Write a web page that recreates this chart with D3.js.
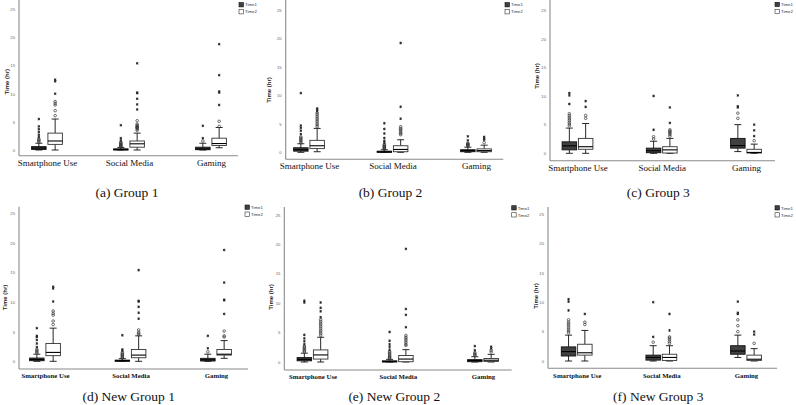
<!DOCTYPE html>
<html><head><meta charset="utf-8">
<script src="https://cdn.jsdelivr.net/npm/d3@7"></script>
<style>
html,body{margin:0;padding:0;background:#fff;}
svg{display:block;}
</style></head>
<body>
<svg id="chart" width="796" height="405"></svg>
<script>
// ---------- DATA ----------
const categories = ["Smartphone Use", "Social Media", "Gaming"];
const seriesNames = ["Time1", "Time2"];
const yTicks = [0, 5, 10, 15, 20, 25];
const panelTitles = ["(a) Group 1", "(b) Group 2", "(c) Group 3", "(d) New Group 1", "(e) New Group 2", "(f) New Group 3"];

// box stats per category: [low whisker, Q1, median, Q3, high whisker]; out = circles, ext = asterisks
// (a) Group 1
const a_t1_box = [[0, 0.1, 0.35, 0.6, 1.2], [0, 0.02, 0.1, 0.2, 0.45], [0, 0.05, 0.2, 0.5, 1.2]];
const a_t1_out = [[1.4, 1.6, 1.8, 2.0], [0.55, 0.65, 0.75, 0.85, 1.0, 1.1, 1.25, 1.4], [1.6]];
const a_t1_ext = [[2.3, 2.7, 3.2, 3.7, 4.2, 5.5], [1.7, 2.1, 4.4], [2.1, 4.3]];
const a_t2_box = [[0, 1.0, 1.6, 3.0, 5.5], [0, 0.5, 1.1, 1.6, 3.0], [0.4, 0.8, 1.15, 2.1, 4.0]];
const a_t2_out = [[6.1, 7.0, 8.0, 8.3, 8.6], [3.5, 3.7, 3.9, 4.0, 4.1, 4.2, 4.4, 4.6, 5.2], [4.2, 5.1]];
const a_t2_ext = [[10.0, 12.2, 12.5], [7.2, 8.1, 9.1, 10.1, 10.2, 15.4], [8.0, 10.2, 10.4, 13.3, 18.8]];
// (b) Group 2
const b_t1_box = [[0, 0.2, 0.45, 0.8, 1.5], [0, 0.02, 0.08, 0.2, 0.45], [0, 0.1, 0.3, 0.45, 0.9]];
const b_t1_out = [[1.7, 1.9, 2.1, 2.3, 2.5, 2.7], [0.55, 0.65, 0.75, 0.9, 1.0, 1.1, 1.25, 1.4], [1.1, 1.2, 1.3, 1.4, 1.5, 1.6]];
const b_t1_ext = [[3.2, 3.8, 4.3, 4.7, 10.4], [1.7, 2.0, 2.5, 3.3, 4.1, 5.1], [2.1, 2.8]];
const b_t2_box = [[0.1, 0.65, 1.15, 2.1, 4.2], [0, 0.1, 0.5, 1.15, 2.2], [0, 0.1, 0.3, 0.6, 1.25]];
const b_t2_out = [[4.5, 4.8, 5.1, 5.4, 5.7, 6.0, 6.3, 6.6, 6.9], [3.1, 3.3, 3.5, 3.8, 4.0, 4.2, 4.5], [1.7]];
const b_t2_ext = [[7.2, 7.5, 7.7], [5.9, 8.0, 19.2], [2.2, 2.4, 2.7]];
// (c) Group 3
const c_t1_box = [[0, 0.6, 1.3, 2.0, 4.4], [0, 0.1, 0.45, 0.9, 2.1], [0.3, 0.9, 1.35, 2.6, 5.0]];
const c_t1_out = [[4.8, 5.1, 5.4, 5.7, 6.0, 6.3, 6.6, 6.9], [2.5, 2.9], [6.1, 7.0]];
const c_t1_ext = [[8.6, 10.1, 10.5], [4.1, 10.0], [8.0, 8.2, 10.1]];
const c_t2_box = [[0, 0.7, 1.15, 2.6, 5.2], [0, 0.05, 0.6, 1.15, 2.6], [0, 0.05, 0.15, 0.7, 1.6]];
const c_t2_out = [[6.1, 6.6], [3.0, 3.3, 3.5, 3.7, 3.9, 4.1], [2.2]];
const c_t2_ext = [[8.1, 9.1], [5.3, 8.0], [3.0, 4.0, 5.0]];
// (d) New Group 1
const d_t1_box = [[0, 0.1, 0.3, 0.55, 1.2], [0, 0.02, 0.1, 0.2, 0.45], [0, 0.05, 0.25, 0.5, 1.2]];
const d_t1_out = [[1.4, 1.6, 1.8, 2.0], [0.55, 0.7, 0.85, 1.0, 1.15, 1.3, 1.5], [1.6]];
const d_t1_ext = [[2.4, 3.0, 3.6, 4.1, 4.3, 5.6], [1.8, 2.0, 4.4], [2.2, 4.3]];
const d_t2_box = [[0, 0.95, 1.5, 3.0, 5.6], [0, 0.6, 1.05, 2.0, 4.3], [0.5, 1.05, 1.2, 2.0, 3.5]];
const d_t2_out = [[6.2, 6.8, 7.8, 8.1, 8.5], [4.5, 4.7, 4.9, 5.3], [4.1, 4.3, 5.1]];
const d_t2_ext = [[10.1, 12.3, 12.6], [7.2, 8.2, 9.2, 10.1, 10.2, 15.4], [8.0, 10.3, 10.4, 13.3, 18.8]];
// (e) New Group 2
const e_t1_box = [[0, 0.2, 0.45, 0.75, 1.5], [0, 0.02, 0.08, 0.2, 0.45], [0, 0.05, 0.25, 0.4, 0.9]];
const e_t1_out = [[1.7, 1.9, 2.1, 2.3, 2.5, 2.7], [0.55, 0.7, 0.85, 1.0, 1.2, 1.4, 1.6, 1.8], [1.1, 1.25, 1.4, 1.6]];
const e_t1_ext = [[3.0, 3.5, 4.0, 4.6, 10.1, 10.4], [2.1, 2.6, 3.0, 3.6, 5.1], [2.0, 2.7]];
const e_t2_box = [[0, 0.5, 1.2, 2.05, 4.2], [0, 0.05, 0.5, 1.1, 2.1], [0, 0.1, 0.3, 0.6, 1.3]];
const e_t2_out = [[4.5, 4.8, 5.1, 5.4, 5.7, 6.0, 6.3, 6.6, 6.9, 7.2], [2.8, 3.0, 3.3, 3.6, 3.9, 4.2, 4.5], [1.7, 2.0]];
const e_t2_ext = [[7.6, 8.6, 9.2, 10.1], [5.9, 8.0, 9.0, 19.2], [2.3, 2.6]];
// (f) New Group 3
const f_t1_box = [[0, 0.85, 1.6, 2.4, 4.4], [0, 0.15, 0.6, 1.0, 2.6], [0.6, 1.15, 1.7, 2.6, 4.4]];
const f_t1_out = [[4.8, 5.1, 5.4, 5.7, 6.0, 6.3, 6.6, 7.0], [3.2], [5.0, 6.0, 7.0]];
const f_t1_ext = [[8.6, 10.1, 10.5], [4.1, 10.0], [8.0, 8.2, 10.1]];
const f_t2_box = [[0, 1.0, 1.4, 2.85, 5.2], [0, 0.1, 0.6, 1.15, 2.6], [0, 0.1, 0.3, 1.0, 2.1]];
const f_t2_out = [[6.2, 6.6], [3.0, 3.3, 3.6, 3.9, 4.1], [3.0]];
const f_t2_ext = [[8.0], [5.2, 8.0], [4.5, 5.0]];

const panelData = [
  [[a_t1_box, a_t1_out, a_t1_ext], [a_t2_box, a_t2_out, a_t2_ext]],
  [[b_t1_box, b_t1_out, b_t1_ext], [b_t2_box, b_t2_out, b_t2_ext]],
  [[c_t1_box, c_t1_out, c_t1_ext], [c_t2_box, c_t2_out, c_t2_ext]],
  [[d_t1_box, d_t1_out, d_t1_ext], [d_t2_box, d_t2_out, d_t2_ext]],
  [[e_t1_box, e_t1_out, e_t1_ext], [e_t2_box, e_t2_out, e_t2_ext]],
  [[f_t1_box, f_t1_out, f_t1_ext], [f_t2_box, f_t2_out, f_t2_ext]]
];

// ---------- LAYOUT ----------
const layout = [
  {ax:19,    y0:150,   y25:9.3,   top:0,     bottom:155.7, right:238,   c0:47,    c2:211, tx:7,     ty:81.7,  capX:127,   capY:197,   labY:166.3, legX:239,   legY:2.6,   bold:false},
  {ax:285.7, y0:152.3, y25:10,    top:0,     bottom:159.3, right:503.3, c0:309,   c2:476, tx:269,   ty:90,    capX:390.5, capY:196.7, labY:169.5, legX:505,   legY:2.6,   bold:false},
  {ax:550,   y0:153.3, y25:10,    top:0,     bottom:160.7, right:775,   c0:577.5, c2:746, tx:536.7, ty:76,    capX:658.3, capY:196.7, labY:171,   legX:775,   legY:2.3,   bold:false},
  {ax:19,    y0:361.3, y25:213.3, top:206.7, bottom:369,   right:248,   c0:45,    c2:216, tx:4.8,   ty:297.5, capX:128.7, capY:401,   labY:377.7, legX:245,   legY:205,   bold:true},
  {ax:284.3, y0:362,   y25:214.7, top:207,   bottom:370,   right:511.7, c0:312.5, c2:483, tx:271,   ty:297,   capX:394.3, capY:401,   labY:378.7, legX:511.7, legY:205.7, bold:true},
  {ax:548,   y0:361,   y25:214,   top:207,   bottom:368.3, right:777,   c0:576.7, c2:746, tx:535.7, ty:296,   capX:658.3, capY:401,   labY:377.7, legX:775,   legY:205.7, bold:true}
];

const boxW = 14.5, halfGap = 0.9, capW = 7;
const fills = ["#404040", "#ffffff"];
const strokes = ["#111111", "#333333"];

const svg = d3.select("#chart");
svg.append("rect").attr("width", 796).attr("height", 405).attr("fill", "#fff");

layout.forEach((L, pi) => {
  const g = svg.append("g");
  const y = d3.scaleLinear().domain([0, 25]).range([L.y0, L.y25]);
  const x = d3.scalePoint().domain(categories).range([L.c0, L.c2]);

  // axis lines
  g.append("line").attr("x1", L.ax).attr("x2", L.ax).attr("y1", L.top).attr("y2", L.bottom)
    .attr("stroke", "#8a8a8a").attr("stroke-width", 1.1);
  g.append("line").attr("x1", L.ax).attr("x2", L.right).attr("y1", L.bottom).attr("y2", L.bottom)
    .attr("stroke", "#8a8a8a").attr("stroke-width", 1.1);

  // y axis tick labels
  const ya = g.append("g").attr("transform", `translate(${L.ax},0)`)
    .call(d3.axisLeft(y).tickValues(yTicks).tickSize(0).tickPadding(4));
  ya.select(".domain").remove();
  ya.selectAll("text").attr("font-family", "Arial, 'Liberation Sans', sans-serif")
    .attr("font-size", 4.2).attr("fill", "#666");

  // y axis title
  g.append("text").attr("transform", `translate(${L.tx},${L.ty}) rotate(-90)`)
    .attr("text-anchor", "middle").attr("dominant-baseline", "central")
    .attr("font-family", "Arial, 'Liberation Sans', sans-serif").attr("font-weight", "bold")
    .attr("font-size", 6).attr("fill", "#222").text("Time (hr)");

  // x axis category labels
  const xa = g.append("g").attr("transform", `translate(0,${L.bottom})`)
    .call(d3.axisBottom(x).tickSize(0));
  xa.select(".domain").remove();
  xa.selectAll("text").attr("y", L.labY - L.bottom).attr("dy", 0)
    .attr("font-family", "'Liberation Serif', 'Times New Roman', serif")
    .attr("font-weight", L.bold ? "bold" : "normal")
    .attr("font-size", L.bold ? 6.8 : 9).attr("fill", "#111");

  // boxes
  seriesNames.forEach((s, si) => {
    const [boxes, outs, exts] = panelData[pi][si];
    categories.forEach((c, ci) => {
      const [lo, q1, med, q3, hi] = boxes[ci];
      const cx = x(c);
      const bx = si === 0 ? cx - halfGap - boxW : cx + halfGap;
      const mid = bx + boxW / 2;
      const bg = g.append("g");
      // whiskers
      bg.append("line").attr("x1", mid).attr("x2", mid).attr("y1", y(hi)).attr("y2", y(q3))
        .attr("stroke", "#111").attr("stroke-width", 0.9);
      bg.append("line").attr("x1", mid).attr("x2", mid).attr("y1", y(q1)).attr("y2", y(lo))
        .attr("stroke", "#111").attr("stroke-width", 0.9);
      bg.append("line").attr("x1", mid - capW / 2).attr("x2", mid + capW / 2).attr("y1", y(hi)).attr("y2", y(hi))
        .attr("stroke", "#111").attr("stroke-width", 0.9);
      bg.append("line").attr("x1", mid - capW / 2).attr("x2", mid + capW / 2).attr("y1", y(lo)).attr("y2", y(lo))
        .attr("stroke", "#111").attr("stroke-width", 0.9);
      // box
      bg.append("rect").attr("x", bx).attr("y", y(q3)).attr("width", boxW)
        .attr("height", Math.max(y(q1) - y(q3), 1.2))
        .attr("fill", fills[si]).attr("stroke", strokes[si]).attr("stroke-width", 0.9);
      // median
      bg.append("line").attr("x1", bx).attr("x2", bx + boxW).attr("y1", y(med)).attr("y2", y(med))
        .attr("stroke", "#000").attr("stroke-width", 1.1);
      // mild outliers (circles)
      bg.selectAll("circle.o").data(outs[ci]).join("circle").attr("class", "o")
        .attr("cx", mid).attr("cy", d => y(d)).attr("r", 1.3)
        .attr("fill", "none").attr("stroke", "#333").attr("stroke-width", 0.7);
      // extreme outliers (asterisks)
      bg.selectAll("path.e").data(exts[ci]).join("path").attr("class", "e")
        .attr("transform", d => `translate(${mid},${y(d)})`)
        .attr("d", d3.symbol(d3.symbolAsterisk, 5))
        .attr("fill", "none").attr("stroke", "#222").attr("stroke-width", 0.9);
    });
  });

  // legend
  seriesNames.forEach((s, si) => {
    const ly = L.legY + si * 7;
    g.append("rect").attr("x", L.legX).attr("y", ly).attr("width", 4.5).attr("height", 4.3)
      .attr("fill", fills[si]).attr("stroke", strokes[si]).attr("stroke-width", 0.6);
    g.append("text").attr("x", L.legX + 6).attr("y", ly + 3.8)
      .attr("font-family", "Arial, 'Liberation Sans', sans-serif").attr("font-size", 4.3)
      .attr("fill", "#333").text(s);
  });

  // caption
  g.append("text").attr("x", L.capX).attr("y", L.capY).attr("text-anchor", "middle")
    .attr("font-family", "'Liberation Serif', 'Times New Roman', serif").attr("font-size", 13.5)
    .attr("fill", "#111").text(panelTitles[pi]);
});
</script>
</body></html>
